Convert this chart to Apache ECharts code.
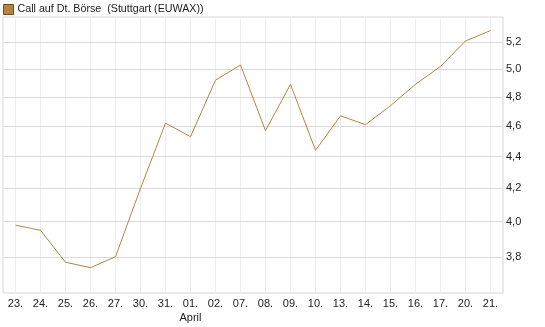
<!DOCTYPE html>
<html>
<head>
<meta charset="utf-8">
<script src="https://cdn.jsdelivr.net/npm/echarts@6/dist/echarts.min.js"></script>
<style>
  html, body { margin: 0; padding: 0; background: #fff; }
  #chart { width: 545px; height: 327px; }
</style>
</head>
<body>
<div id="chart"></div>
<script>
// Kursdaten
const days = ['23.', '24.', '25.', '26.', '27.', '30.', '31.', '01.', '02.', '07.',
  '08.', '09.', '10.', '13.', '14.', '15.', '16.', '17.', '20.', '21.'];
const prices = [3.98, 3.95, 3.77, 3.74, 3.80, 4.20, 4.62, 4.53, 4.92, 5.03,
  4.57, 4.89, 4.44, 4.67, 4.61, 4.74, 4.89, 5.02, 5.21, 5.29];
const yTicks = [3.8, 4.0, 4.2, 4.4, 4.6, 4.8, 5.0, 5.2];
const seriesName = 'Call auf Dt. Börse  (Stuttgart (EUWAX))';

const chart = echarts.init(document.getElementById('chart'));
const font = "'Liberation Sans', Arial, sans-serif";

// vertikale Linien pro Tag, horizontale Linien pro Tick (log-Achse)
const vLines = days.map((d) => ({
  xAxis: d,
  lineStyle: { color: '#eeeeee', width: 1, type: 'solid' },
  label: { show: false }
}));
const hLines = yTicks.map((v) => ({
  yAxis: v,
  lineStyle: { color: '#dadada', width: 1, type: 'solid' },
  label: {
    show: true,
    position: 'end',
    distance: 3,
    formatter: v.toFixed(1).replace('.', ','),
    color: '#222',
    fontSize: 11,
    fontFamily: font
  }
}));

chart.setOption({
  animation: false,
  textStyle: { fontFamily: font },
  legend: {
    left: 3,
    top: 4,
    padding: 0,
    icon: 'rect',
    itemWidth: 10,
    itemHeight: 10,
    itemGap: 4,
    itemStyle: { borderColor: '#6e4c1c', borderWidth: 1 },
    textStyle: { fontSize: 10.7, color: '#222', fontFamily: font, padding: [0, 0, 0, -1] },
    data: [seriesName]
  },
  grid: {
    left: 3,
    right: 42,
    top: 17,
    bottom: 34,
    show: true,
    borderColor: '#d6d6d6',
    borderWidth: 1
  },
  xAxis: {
    type: 'category',
    data: days,
    boundaryGap: true,
    axisLine: { show: false },
    axisTick: { show: false },
    splitLine: { show: false },
    axisLabel: {
      interval: 0,
      margin: 4,
      fontSize: 11,
      color: '#222',
      fontFamily: font,
      lineHeight: 14,
      formatter: (v) => (v === '01.' ? v + '\nApril' : v)
    }
  },
  yAxis: {
    type: 'log',
    min: 3.604,
    max: 5.396,
    position: 'right',
    axisLine: { show: false },
    axisTick: { show: false },
    axisLabel: { show: false },
    splitLine: { show: false }
  },
  series: [{
    name: seriesName,
    type: 'line',
    data: prices,
    symbol: 'none',
    color: '#b5843f',
    lineStyle: { color: '#b5843f', width: 1 },
    markLine: {
      silent: true,
      symbol: ['none', 'none'],
      z: 1,
      data: vLines.concat(hLines)
    }
  }]
});
</script>
</body>
</html>
